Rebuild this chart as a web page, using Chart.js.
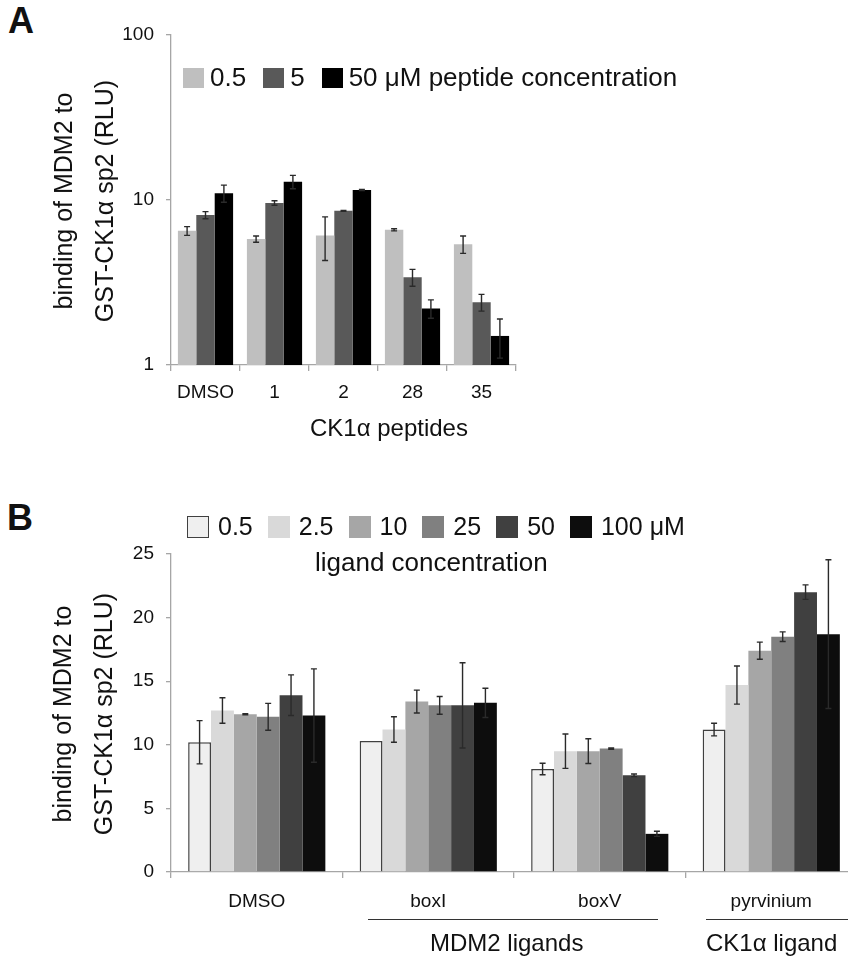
<!DOCTYPE html>
<html>
<head>
<meta charset="utf-8">
<script src="https://cdn.jsdelivr.net/npm/chart.js@4.4.1/dist/chart.umd.min.js"></script>
<style>
  html, body { margin:0; padding:0; background:#fff; }
  body { position:relative; width:848px; height:959px; overflow:hidden;
         font-family:"Liberation Sans", Arial, sans-serif; color:#111; }
  canvas { position:absolute; }
  .abs { position:absolute; white-space:nowrap; }
  .panel { font-weight:bold; font-size:36px; }
  .legend { display:flex; align-items:center; }
  .legend .box { display:inline-block; box-sizing:border-box; }
  .ytitle { text-align:center; line-height:41px; font-size:25px; transform:rotate(-90deg); }
  .rule { position:absolute; height:0; border-top:1.5px solid #333; }
</style>
</head>
<body>
<div class="abs panel" style="left:8px;top:0px;">A</div>
<div class="abs panel" style="left:7px;top:497px;">B</div>

<canvas id="chartA" width="848" height="460" style="left:0;top:0;"></canvas>
<canvas id="chartB" width="870" height="489" style="left:0;top:470px;"></canvas>

<div id="legendA" class="abs legend" style="left:183px;top:62px;font-size:26px;"></div>
<div id="legendB" class="abs legend" style="left:187px;top:512px;font-size:25px;"></div>
<div class="abs" style="left:315px;top:547px;font-size:26px;">ligand concentration</div>

<div class="abs ytitle" style="left:-76px;top:160px;width:320px;height:82px;">binding of MDM2 to<br>GST-CK1α sp2 (RLU)</div>
<div class="abs ytitle" style="left:-77px;top:673px;width:320px;height:82px;">binding of MDM2 to<br>GST-CK1α sp2 (RLU)</div>

<div class="abs" style="left:310px;top:414px;font-size:24px;">CK1α peptides</div>

<div class="rule" style="left:368px;top:919px;width:290px;"></div>
<div class="rule" style="left:706px;top:919px;width:142px;"></div>
<div class="abs" style="left:430px;top:929px;font-size:24px;">MDM2 ligands</div>
<div class="abs" style="left:706px;top:929px;font-size:24px;">CK1α ligand</div>

<script>
// Panel A: peptides (log scale)
const peptideCats = ['DMSO', '1', '2', '28', '35'];
const peptideDoses = ['0.5', '5', '50 μM peptide concentration'];
const pep05 = [6.5, 5.8, 6.1, 6.6, 5.4];
const pep05Err = [0.4, 0.25, 1.8, 0.1, 0.65];
const pep5 = [8.1, 9.6, 8.6, 3.4, 2.4];
const pep5Err = [0.4, 0.3, 0.05, 0.4, 0.28];
const pep50 = [11.0, 12.9, 11.5, 2.2, 1.5];
const pep50Err = [1.3, 1.2, 0.1, 0.28, 0.4];
const logTicks = [1, 10, 100];

// Panel B: ligands
const ligandCats = ['DMSO', 'boxI', 'boxV', 'pyrvinium'];
const ligandDoses = ['0.5', '2.5', '10', '25', '50', '100 μM'];
const lig05 = [10.2, 10.3, 8.1, 11.2];
const lig05Err = [1.7, 0, 0.45, 0.5];
const lig25 = [12.7, 11.2, 9.5, 14.7];
const lig25Err = [1.0, 1.0, 1.35, 1.5];
const lig10 = [12.4, 13.4, 9.5, 17.4];
const lig10Err = [0.05, 0.9, 0.97, 0.67];
const lig25uM = [12.2, 13.1, 9.7, 18.5];
const lig25uMErr = [1.06, 0.7, 0.05, 0.38];
const lig50 = [13.9, 13.1, 7.6, 22.0];
const lig50Err = [1.6, 3.35, 0.1, 0.57];
const lig100 = [12.3, 13.3, 3.0, 18.7];
const lig100Err = [3.67, 1.15, 0.2, 5.85];

const colorsA = ['#bfbfbf', '#595959', '#000000'];
const colorsB = ['#efefef', '#d9d9d9', '#a6a6a6', '#808080', '#404040', '#0d0d0d'];

const axisGray = '#a6a6a6';
const tickFont = { family: '"Liberation Sans", Arial, sans-serif', size: 19 };

// error bars drawn from the y scale
const errorBars = {
  id: 'errorBars',
  afterDatasetsDraw(chart) {
    const ctx = chart.ctx;
    const y = chart.scales.y;
    ctx.save();
    ctx.strokeStyle = '#2a2a2a';
    ctx.lineWidth = 1.4;
    chart.data.datasets.forEach((ds, i) => {
      const meta = chart.getDatasetMeta(i);
      meta.data.forEach((bar, j) => {
        const v = ds.data[j], e = ds.errors[j];
        if (!e) return;
        const lo = Math.max(v - e, y.min);
        const top = y.getPixelForValue(v + e), bot = y.getPixelForValue(lo);
        const x = bar.x;
        ctx.beginPath();
        ctx.moveTo(x, top); ctx.lineTo(x, bot);
        ctx.moveTo(x - 3, top); ctx.lineTo(x + 3, top);
        ctx.moveTo(x - 3, bot); ctx.lineTo(x + 3, bot);
        ctx.stroke();
      });
    });
    ctx.restore();
  }
};

function axisStyle(extra) {
  return Object.assign({
    border: { color: axisGray, width: 1.3 },
    grid: { drawOnChartArea: false, drawTicks: true, color: axisGray, lineWidth: 1.3 },
    ticks: { color: '#111', font: tickFont }
  }, extra);
}

// Chart A
new Chart(document.getElementById('chartA'), {
  type: 'bar',
  data: {
    labels: peptideCats,
    datasets: [
      { data: pep05, errors: pep05Err, backgroundColor: colorsA[0] },
      { data: pep5, errors: pep5Err, backgroundColor: colorsA[1] },
      { data: pep50, errors: pep50Err, backgroundColor: colorsA[2] }
    ]
  },
  options: {
    responsive: false,
    animation: false,
    layout: { padding: { left: 0, right: 332, top: 35, bottom: 35 } },
    datasets: { bar: { categoryPercentage: 0.8, barPercentage: 1.0 } },
    plugins: { legend: { display: false }, tooltip: { enabled: false } },
    scales: {
      x: axisStyle({
        grid: { drawOnChartArea: false, drawTicks: true, color: axisGray, lineWidth: 1.3, tickLength: 6 },
        ticks: { color: '#111', font: tickFont, padding: 10, maxRotation: 0 },
        afterFit: s => { s.height = 60; }
      }),
      y: axisStyle({
        type: 'logarithmic',
        min: 1, max: 100,
        grid: { drawOnChartArea: false, drawTicks: true, color: axisGray, lineWidth: 1.3, tickLength: 5 },
        ticks: { color: '#111', font: tickFont, padding: 12, callback: v => String(v) },
        afterBuildTicks: s => { s.ticks = logTicks.map(v => ({ value: v })); },
        afterFit: s => { s.width = 171; }
      })
    }
  },
  plugins: [errorBars]
});

// Chart B
new Chart(document.getElementById('chartB'), {
  type: 'bar',
  data: {
    labels: ligandCats,
    datasets: [
      { data: lig05, errors: lig05Err, backgroundColor: colorsB[0], borderColor: '#404040', borderWidth: 1.5 },
      { data: lig25, errors: lig25Err, backgroundColor: colorsB[1] },
      { data: lig10, errors: lig10Err, backgroundColor: colorsB[2] },
      { data: lig25uM, errors: lig25uMErr, backgroundColor: colorsB[3] },
      { data: lig50, errors: lig50Err, backgroundColor: colorsB[4] },
      { data: lig100, errors: lig100Err, backgroundColor: colorsB[5] }
    ]
  },
  options: {
    responsive: false,
    animation: false,
    layout: { padding: { left: 0, right: 13, top: 84, bottom: 37 } },
    datasets: { bar: { categoryPercentage: 0.8, barPercentage: 1.0 } },
    plugins: { legend: { display: false }, tooltip: { enabled: false } },
    scales: {
      x: axisStyle({
        grid: { drawOnChartArea: false, drawTicks: true, color: axisGray, lineWidth: 1.3, tickLength: 6 },
        ticks: { color: '#111', font: tickFont, padding: 12, maxRotation: 0 },
        afterFit: s => { s.height = 50; }
      }),
      y: axisStyle({
        min: 0, max: 25,
        grid: { drawOnChartArea: false, drawTicks: true, color: axisGray, lineWidth: 1.3, tickLength: 5 },
        ticks: { color: '#111', font: tickFont, padding: 12, stepSize: 5 },
        afterFit: s => { s.width = 171; }
      })
    }
  },
  plugins: [errorBars]
});

// HTML legends
function buildLegend(id, labels, colors, boxW, boxH, textGap, itemGap, firstBorder) {
  const el = document.getElementById(id);
  labels.forEach((lab, i) => {
    const box = document.createElement('span');
    box.className = 'box';
    box.style.width = boxW + 'px';
    box.style.height = boxH + 'px';
    box.style.background = colors[i];
    if (firstBorder && i === 0) box.style.border = '1.5px solid #404040';
    box.style.marginRight = textGap + 'px';
    const txt = document.createElement('span');
    txt.textContent = lab;
    if (i < labels.length - 1) txt.style.marginRight = itemGap + 'px';
    el.appendChild(box);
    el.appendChild(txt);
  });
}
buildLegend('legendA', peptideDoses, colorsA, 21, 20, 6, 17, false);
buildLegend('legendB', ligandDoses, colorsB, 22, 22, 9, 15, true);
</script>
</body>
</html>
